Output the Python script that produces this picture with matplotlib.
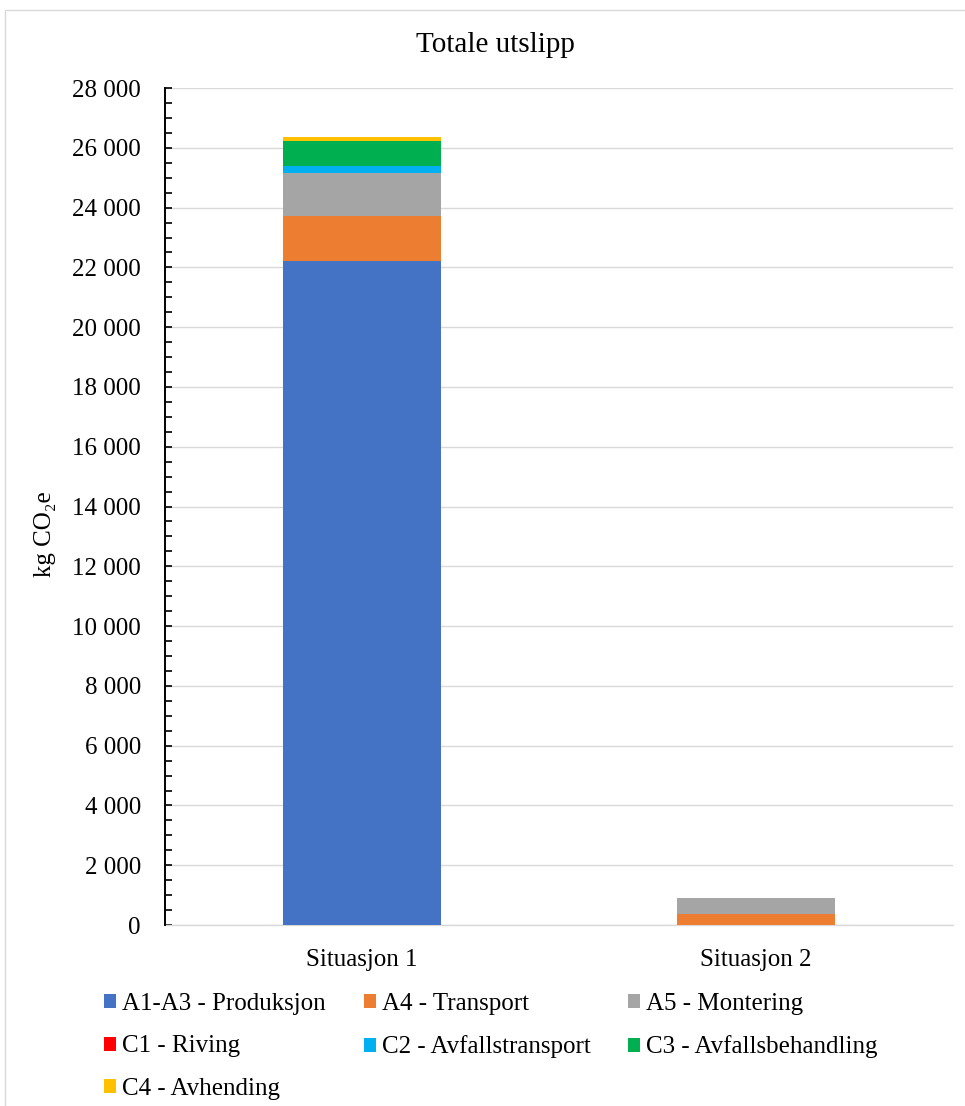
import matplotlib.pyplot as plt
from matplotlib.patches import Rectangle
from matplotlib.ticker import FuncFormatter, MultipleLocator

plt.rcParams['font.family'] = ['Liberation Serif', 'DejaVu Serif']

# --- DATA ---
situasjoner = ['Situasjon 1', 'Situasjon 2']
faser = ['A1-A3 - Produksjon', 'A4 - Transport', 'A5 - Montering',
         'C1 - Riving', 'C2 - Avfallstransport', 'C3 - Avfallsbehandling',
         'C4 - Avhending']
a1_a3 = [22210, 0]
a4 = [1520, 360]
a5 = [1440, 530]
c1 = [0, 0]
c2 = [210, 0]
c3 = [850, 0]
c4 = [140, 0]
farger = ['#4472C4', '#ED7D31', '#A5A5A5', '#FF0000', '#00B0F0', '#00B050', '#FFC000']

fig = plt.figure(figsize=(9.65, 11.06), dpi=100)
ax = fig.add_axes([0.1705, 0.1636, 0.8175, 0.7568])

# stacked bars
x = range(len(situasjoner))
bunn = [0, 0]
handles = []
for navn, verdier, farge in zip(faser, [a1_a3, a4, a5, c1, c2, c3, c4], farger):
    b = ax.bar(x, verdier, width=0.4, bottom=bunn, color=farge, label=navn, zorder=3)
    handles.append(b)
    bunn = [b0 + v for b0, v in zip(bunn, verdier)]

ax.set_xlim(-0.5, 1.5)
ax.set_ylim(0, 28000)
ax.yaxis.set_major_locator(MultipleLocator(2000))
ax.yaxis.set_minor_locator(MultipleLocator(500))
ax.yaxis.set_major_formatter(FuncFormatter(lambda v, p: f'{v:,.0f}'.replace(',', ' ')))
ax.set_xticks(list(x))
ax.set_xticklabels(situasjoner)
ax.tick_params(axis='y', which='both', direction='in', length=5, width=1.2,
               color='black', labelsize=18, pad=17)
ax.tick_params(axis='x', length=0, labelsize=18, pad=17)
ax.grid(axis='y', color='#D9D9D9', linewidth=1, zorder=0)
for s in ['top', 'right']:
    ax.spines[s].set_visible(False)
ax.spines['left'].set_color('black')
ax.spines['left'].set_linewidth(1.4)
ax.spines['left'].set_zorder(4)
ax.spines['bottom'].set_color('#D9D9D9')
ax.spines['bottom'].set_linewidth(1)
ax.set_ylabel('kg CO₂e', fontsize=18)
ax.yaxis.set_label_coords(-0.137, 0.467)

fig.text(0.513, 0.959, 'Totale utslipp', ha='center', va='center', fontsize=21)

# legend in row order (matplotlib fills column-wise)
order = [0, 3, 6, 1, 4, 2, 5]
fig.legend([handles[i] for i in order], [faser[i] for i in order],
           ncol=3, loc='upper left', bbox_to_anchor=(0.108, 0.1022),
           frameon=False, fontsize=18, handlelength=0.48, handleheight=0.48,
           handletextpad=0.25, columnspacing=1.5, labelspacing=0.82,
           borderaxespad=0, borderpad=0)

# chart area border
fig.patches.append(Rectangle((5 / 965, -0.1), 1.2, 1 - 10 / 1106 + 0.1,
                             transform=fig.transFigure, fill=False,
                             edgecolor='#D9D9D9', linewidth=1))

fig.savefig('out.png', dpi=100)
